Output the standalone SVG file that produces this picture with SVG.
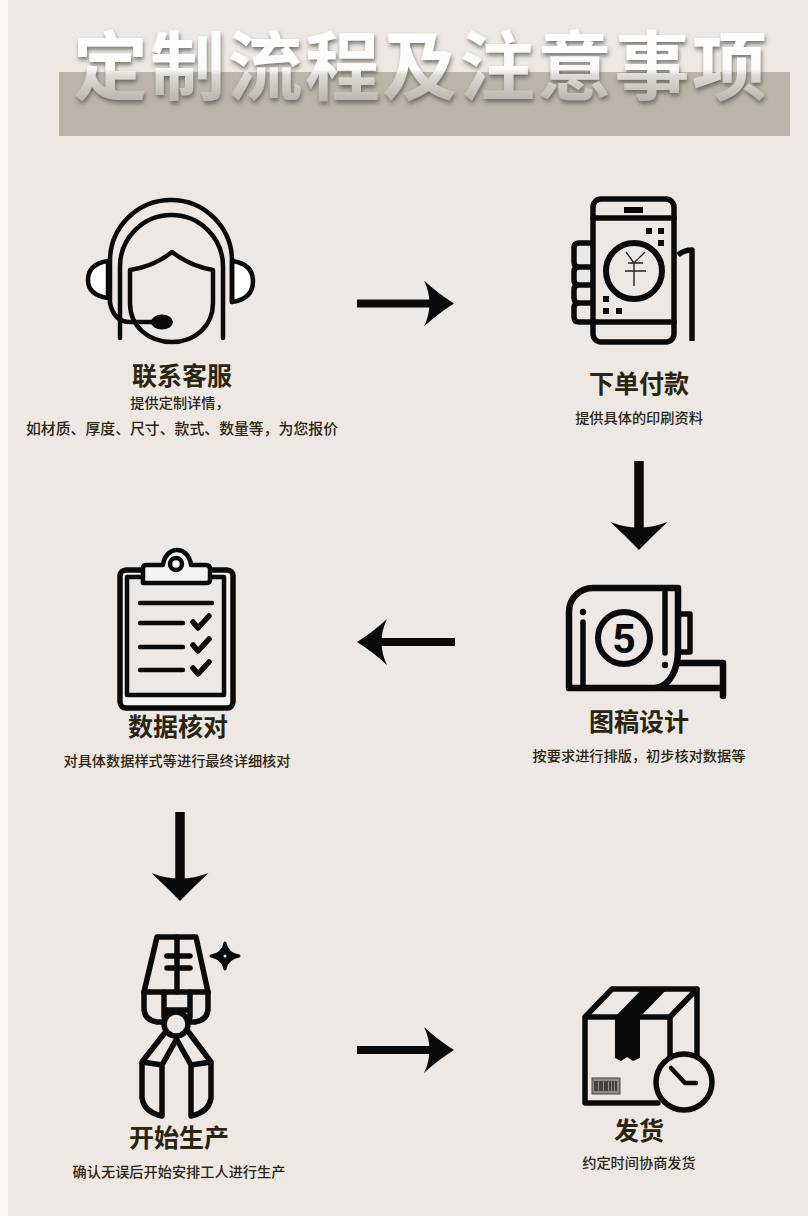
<svg xmlns="http://www.w3.org/2000/svg" width="808" height="1216" viewBox="0 0 808 1216">
<style>
.l{fill:none;stroke:#0a0a0a;stroke-width:5.5;stroke-linecap:round;stroke-linejoin:round}
.m{stroke-width:4.5}
.k{fill:#0a0a0a}
.h{font-family:"Noto Sans CJK SC","Liberation Sans",sans-serif;font-size:25px;font-weight:700;fill:#2b2510;text-anchor:middle}
.s{font-family:"Noto Sans CJK SC","Liberation Sans",sans-serif;font-size:14.2px;font-weight:500;fill:#2b2510;text-anchor:middle}
.a{stroke:#0a0a0a;stroke-width:8;fill:none}
.v{stroke-width:9.5}
</style>
<defs>
<linearGradient id="tg" gradientUnits="userSpaceOnUse" x1="0" y1="33" x2="0" y2="103">
<stop offset="0" stop-color="#ffffff"/><stop offset=".52" stop-color="#fbfaf8"/><stop offset=".6" stop-color="#dedbd4"/><stop offset="1" stop-color="#b6b3aa"/>
</linearGradient>
<filter id="ts" x="-5%" y="-20%" width="110%" height="150%">
<feDropShadow dx="1" dy="3" stdDeviation="2" flood-color="#55524a" flood-opacity=".75"/>
</filter>
<marker id="ah" viewBox="0 0 30 46" refX="8" refY="23" markerWidth="30" markerHeight="46" markerUnits="userSpaceOnUse" orient="auto">
<path d="M0 0Q14 13 30 23Q14 33 0 46Q11 23 0 0Z" fill="#0a0a0a"/>
</marker>
<marker id="av" viewBox="0 0 28 57" refX="8" refY="28.5" markerWidth="28" markerHeight="57" markerUnits="userSpaceOnUse" orient="auto">
<path d="M0 0Q14 15 28 28.5Q14 42 0 57Q11 28.5 0 0Z" fill="#0a0a0a"/>
</marker>
</defs>
<rect width="808" height="1216" fill="#ede8e4"/>
<rect width="8" height="1216" fill="#fbfaf9"/>
<g id="title">
<rect x="59" y="72" width="731" height="64" fill="#bab5a8"/>
<text x="421" y="94" text-anchor="middle" font-family="'Noto Sans CJK SC','Liberation Sans',sans-serif" font-size="75" font-weight="700" letter-spacing="2.4" fill="url(#tg)" filter="url(#ts)">定制流程及注意事项</text>
</g>
<g id="connectors">
<path class="a" d="M357 303.500H432" marker-end="url(#ah)"/>
<path class="a v" d="M639 461V530" marker-end="url(#av)"/>
<path class="a" d="M455 642H379" marker-end="url(#ah)"/>
<path class="a v" d="M180 812V881" marker-end="url(#av)"/>
<path class="a" d="M357 1050H432" marker-end="url(#ah)"/>
</g>
<g id="node-contact">
<path class="l m" d="M108 261Q88 264 88 280Q88 295 108 298Z" style="fill:#fff"/>
<path class="l m" d="M232 261Q253 264 253 281Q253 299 232 302Z" style="fill:#fff"/>
<path class="l m" d="M110 303V261A61 61 0 0 1 232 261V302"/>
<path class="l m" d="M120 338V266.500A51.500 51.500 0 0 1 223 266.500V338"/>
<path class="l m" d="M130 270Q155 266 172 252Q190 266 213 270V303C213 326 195 342 172 342C148 342 130 326 130 303Z"/>
<path class="l m" d="M110 303Q114 322 130 322H153"/>
<ellipse class="k" cx="162" cy="322" rx="11" ry="7.500"/>
<text class="h" x="182" y="385">联系客服</text>
<text class="s" x="180" y="408">提供定制详情，</text>
<text class="s" x="182" y="434" style="font-size:14.86px">如材质、厚度、尺寸、款式、数量等，为您报价</text>
</g>
<g id="node-order">
<rect class="l" x="593" y="199" width="81" height="143" rx="8"/>
<path class="l" d="M593 218H674M593 322H674"/>
<rect class="k" x="624" y="207" width="19" height="6"/>
<path class="k" d="M646 228h6v6h-6zM658 228h6v6h-6zM658 240h6v6h-6zM603 296h6v6h-6zM603 308h6v6h-6zM616 308h6v6h-6z"/>
<circle class="l" cx="634" cy="271" r="28" style="stroke-width:6"/>
<path d="M626 252L634 263L645 252M628 263H643M625 271H646M634 263V286" fill="none" stroke="#222" stroke-width="1.4"/>
<path class="l" d="M592 243H579Q574 243 574 248V262Q574 267 579 267H592M579 267Q574 267 574 272V280Q574 285 579 285H592M579 285Q574 285 574 290V298Q574 303 579 303H592M579 303Q574 303 574 308V317Q574 322 579 322H592"/>
<path class="l" d="M678 255Q684 250 692 250V341" style="stroke-linecap:butt"/>
<text class="h" x="639" y="393">下单付款</text>
<text class="s" x="639" y="423">提供具体的印刷资料</text>
</g>
<g id="node-design">
<path class="l" style="stroke-width:6.500" d="M569 688V612C569 598 580 588 593 588H678V650C678 670 670 686 655 688H569Z"/>
<path class="l" style="stroke-width:6.500" d="M678 663H723V696M657 688H720"/>
<path class="l" d="M665 592V653M583 622V686"/>
<circle class="k" cx="665" cy="665" r="3.200"/><circle class="k" cx="583" cy="612" r="3.200"/>
<circle class="l" cx="624" cy="638" r="26" style="stroke-width:6"/>
<text x="624" y="653" text-anchor="middle" font-family="Roboto,'Liberation Sans',sans-serif" font-weight="700" font-size="41" fill="#0a0a0a">5</text>
<path class="l" d="M680 614H690V652H680"/>
<text class="h" x="639" y="731">图稿设计</text>
<text class="s" x="639" y="761">按要求进行排版，初步核对数据等</text>
</g>
<g id="node-check">
<rect class="l" x="120" y="570" width="113" height="138" rx="6" style="fill:#f6f4f2"/>
<rect class="l m" x="127" y="577" width="97" height="118" style="fill:#ede8e4"/>
<path class="l m" d="M143 583V568Q143 565 147 565H163C164 556 170 550 177 550C184 550 190 556 191 565H206Q210 565 210 569V580Q210 583 206 583Z" style="fill:#f6f4f2"/>
<circle class="l m" cx="176" cy="564" r="6"/>
<path class="l m" d="M140 603H212M140 623H183M140 647H183M140 670H183"/>
<path class="l" d="M193 622L198 628L209 616M193 645L198 651L209 639M193 668L198 674L209 662"/>
<text class="h" x="178" y="736">数据核对</text>
<text class="s" x="177" y="766">对具体数据样式等进行最终详细核对</text>
</g>
<g id="node-production">
<path class="l" d="M157 937H196L208 992H144Z"/>
<path class="l" d="M177 937V992M167 956H190M167 968H190"/>
<path class="l" d="M144 992V1008Q144 1020 157 1022H165M208 992V1008Q208 1020 195 1022H189M164 992V1017M190 992V1017M164 1010H190"/>
<path class="l" d="M167 1030L142 1062V1098Q144 1112 162 1116V1065L142 1062M162 1065L176 1040"/>
<path class="l" d="M187 1030L211 1062V1098Q209 1112 191 1116V1065L211 1062M191 1065L177 1040"/>
<circle class="l" cx="176" cy="1024" r="12" style="fill:#ede8e4"/>
<path d="M225 943Q227 954 239 956Q227 958 225 969Q223 958 211 956Q223 954 225 943Z" fill="#0a0a0a" stroke="#0a0a0a" stroke-width="3" stroke-linejoin="round"/>
<circle cx="225" cy="956" r="1.500" fill="#ede8e4"/>
<text class="h" x="179" y="1147">开始生产</text>
<text class="s" x="179" y="1177">确认无误后开始安排工人进行生产</text>
</g>
<g id="node-delivery">
<path class="l" d="M585 1017H670V1057M585 1017V1103H658M585 1017L612 989H697V1055M670 1017L697 989"/>
<path class="k" d="M615 1017L642 989H667L640 1017V1058L633 1061L627 1057L621 1061L615 1058Z"/>
<rect x="592" y="1078" width="28" height="16" fill="#8f8c88" stroke="#444" stroke-width="1"/>
<path d="M595 1081v10M597 1081v10M600 1081v10M602 1081v10M605 1081v10M607 1081v10M610 1081v10M613 1081v10M616 1081v10" stroke="#111" stroke-width="1.2"/>
<circle class="l" cx="684" cy="1082" r="28" style="fill:#ede8e4"/>
<path class="l m" d="M671 1068L685 1083H696"/>
<text class="h" x="639" y="1140">发货</text>
<text class="s" x="639" y="1168">约定时间协商发货</text>
</g>
</svg>
